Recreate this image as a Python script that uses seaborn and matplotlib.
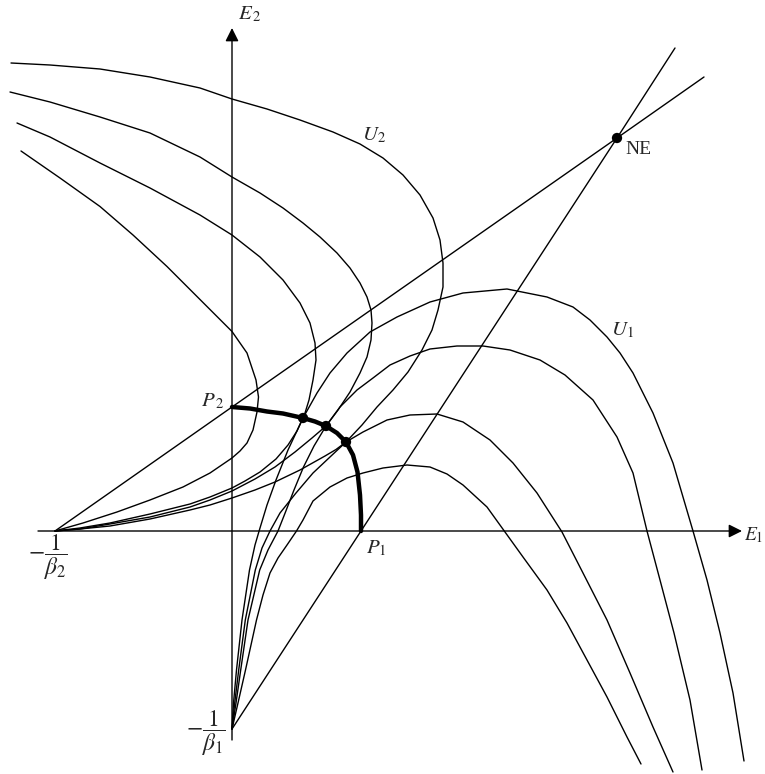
import pandas as pd
import seaborn as sns
import matplotlib.pyplot as plt

# values (no numeric scale in the original, so these are
# arbitrary effort units measured from the point where the axes cross)
p1 = 12.9
p2 = 12.4
minus_inv_beta1 = -19.8
minus_inv_beta2 = -17.7
ne_e1, ne_e2 = 38.5, 39.3

# reaction lines
br1_e1 = [0.0, p1, ne_e1, 44.3]
br1_e2 = [minus_inv_beta1, 0.0, ne_e2, 48.3]
br2_e1 = [minus_inv_beta2, 0.0, ne_e1, 47.2]
br2_e2 = [0.0, p2, ne_e2, 45.4]

# contract curve P2 -> P1 and the three tangency points on it
cc_e1 = [0.0, 1.8, 3.5, 5.1, 7.1, 8.3, 9.4, 10.5, 11.4, 12.1, 12.55, 12.8, 12.9, 12.9]
cc_e2 = [12.4, 12.25, 11.95, 11.75, 11.3, 10.95, 10.5, 9.8, 8.9, 7.6, 5.9, 3.6, 1.6, 0.0]
tang_e1 = [7.1, 9.4, 11.4]
tang_e2 = [11.3, 10.5, 8.9]

# U1 indifference curves (all start at -1/beta1)
u1a_e1 = [0.0, 0.6, 1.35, 2.45, 3.1, 3.8, 4.6, 5.5, 6.45, 7.1, 8.1, 9.8, 11.5, 13.1,
          15.1, 17.5, 19.8, 21.5, 23.1, 25.5, 27.3, 29.1, 31.5, 33.5, 35.5, 37.5, 39.5,
          40.9]
u1a_e2 = [-19.8, -17.2, -13.9, -8.9, -6.4, -4.2, -2.7, -1.4, 0.0, 1.1, 3.0, 4.4, 5.3, 5.8,
          6.3, 6.6, 6.4, 5.7, 4.6, 2.4, -0.1, -2.6, -5.9, -9.2, -12.9, -16.6, -20.6,
          -23.3]
u1b_e1 = [0.0, 0.27, 0.67, 1.33, 2.33, 3.0, 3.8, 4.8, 6.4, 8.1, 9.8, 11.4, 13.1, 15.5,
          17.8, 20.5, 23.1, 25.8, 28.1, 30.5, 33.0, 35.1, 37.5, 39.8, 42.1, 44.1]
u1b_e2 = [-19.8, -17.2, -13.9, -8.9, -3.9, -1.7, 0.0, 1.8, 3.8, 5.8, 7.4, 8.9, 9.9, 11.1,
          11.6, 11.7, 10.9, 9.1, 6.8, 3.8, -0.1, -4.2, -8.9, -14.2, -19.6, -24.1]
u1c_e1 = [0.0, 0.4, 0.87, 1.6, 2.77, 3.6, 4.6, 5.35, 6.2, 7.15, 8.2, 9.4, 10.8, 12.5,
          14.1, 15.8, 17.8, 19.8, 22.5, 25.1, 27.8, 30.8, 33.3, 36.1, 38.5, 40.1, 41.5,
          42.8, 44.2, 45.8, 47.0]
u1c_e2 = [-19.8, -17.2, -13.9, -8.9, -3.9, -1.9, 0.0, 1.9, 4.1, 6.4, 8.5, 10.5, 12.4,
          14.1, 15.3, 16.6, 17.5, 18.2, 18.5, 18.5, 18.1, 17.1, 15.6, 13.1, 9.4, 5.8, 0.0,
          -4.9, -10.2, -16.9, -23.9]
u1d_e1 = [0.0, 0.15, 0.45, 1.0, 1.75, 2.3, 2.8, 3.5, 4.4, 5.6, 7.1, 8.5, 9.8, 11.5, 13.8,
          16.5, 19.8, 23.1, 27.5, 31.5, 34.1, 35.8, 37.5, 38.8, 40.1, 42.1, 44.1, 46.1,
          47.5, 48.8, 50.1, 51.2]
u1d_e2 = [-19.8, -17.2, -13.9, -8.9, -3.9, -1.4, 0.3, 2.6, 5.1, 8.1, 11.3, 13.8, 15.8,
          17.8, 19.9, 21.4, 22.9, 23.8, 24.2, 23.4, 22.4, 21.1, 19.4, 17.8, 15.8, 11.8,
          6.8, 0.0, -4.9, -10.2, -16.2, -23.0]

# U2 indifference curves (all end at -1/beta2)
u2a_e1 = [-22.1, -18.2, -13.2, -8.2, -3.2, 0.0, 3.5, 6.8, 10.1, 12.8, 15.1, 17.1, 18.8,
          20.1, 20.8, 21.1, 21.1, 20.6, 20.0, 19.0, 17.6, 16.1, 14.5, 13.0, 11.4, 10.4,
          9.3, 6.8, 4.3, 2.3, 0.0, -2.2, -4.2, -8.2, -12.2, -15.2, -17.7]
u2a_e2 = [46.8, 46.6, 46.2, 45.4, 44.3, 43.2, 42.2, 41.1, 39.9, 38.7, 37.3, 35.6, 33.6,
          31.3, 29.1, 26.8, 24.4, 22.1, 20.1, 18.1, 15.9, 14.1, 12.4, 10.6, 8.9, 8.15,
          7.5, 6.1, 4.9, 4.1, 3.3, 2.6, 2.1, 1.2, 0.5, 0.2, 0.0]
u2b_e1 = [-22.2, -18.2, -13.2, -8.2, -3.2, 0.0, 2.8, 5.1, 7.1, 8.8, 10.5, 11.8, 12.8,
          13.5, 13.9, 14.0, 13.9, 13.5, 12.8, 11.8, 10.6, 9.4, 8.0, 6.3, 4.3, 2.3, 0.0,
          -2.2, -4.2, -8.2, -12.2, -15.2, -17.7]
u2b_e2 = [43.9, 42.9, 41.4, 39.8, 37.4, 35.4, 33.8, 32.3, 30.8, 29.4, 27.8, 26.3, 24.8,
          23.4, 22.1, 20.8, 19.1, 17.4, 15.8, 13.9, 12.1, 10.5, 9.3, 7.9, 6.4, 5.2, 4.0,
          3.1, 2.4, 1.4, 0.7, 0.2, 0.0]
u2c_e1 = [-21.5, -18.2, -13.2, -8.2, -3.2, 0.0, 2.8, 5.1, 6.8, 7.8, 8.3, 8.4, 8.1, 7.7,
          7.3, 7.1, 6.5, 5.6, 4.4, 2.8, 1.3, 0.0, -2.2, -4.2, -8.2, -12.2, -15.2, -17.7]
u2c_e2 = [40.8, 39.4, 36.8, 34.3, 31.6, 29.6, 27.4, 25.1, 22.8, 20.8, 18.8, 17.1, 15.1,
          13.1, 11.8, 11.3, 10.0, 8.6, 7.2, 5.9, 5.0, 4.3, 3.4, 2.7, 1.7, 0.8, 0.3, 0.0]
u2d_e1 = [-21.1, -17.2, -13.2, -9.9, -6.5, -2.5, 0.0, 1.5, 2.4, 2.65, 2.5, 2.1, 1.5, 0.8,
          0.0, -2.2, -4.9, -8.2, -11.5, -14.9, -17.7]
u2d_e2 = [38.0, 35.3, 32.45, 29.6, 26.45, 22.45, 19.95, 17.8, 15.1, 13.4, 11.9, 10.1, 8.8,
          8.0, 7.3, 5.8, 4.4, 3.1, 1.9, 0.8, 0.0]

sns.set_theme(style="white")
plt.rcParams["font.family"] = ["Liberation Serif", "DejaVu Serif"]
plt.rcParams["mathtext.fontset"] = "stix"

fig = plt.figure(figsize=(7.65, 7.74), dpi=100)
ax = fig.add_axes([0, 0, 1, 1])

# axes with arrows
ax.annotate("", xy=(51.0, 0), xytext=(-19.4, 0),
            arrowprops=dict(arrowstyle="-|>", lw=1.0, color="black", mutation_scale=20,
                            shrinkA=0, shrinkB=0))
ax.annotate("", xy=(0, 50.3), xytext=(0, -20.9),
            arrowprops=dict(arrowstyle="-|>", lw=1.0, color="black", mutation_scale=20,
                            shrinkA=0, shrinkB=0))

curves = [
    (br1_e1, br1_e2), (br2_e1, br2_e2),
    (u1a_e1, u1a_e2), (u1b_e1, u1b_e2), (u1c_e1, u1c_e2), (u1d_e1, u1d_e2),
    (u2a_e1, u2a_e2), (u2b_e1, u2b_e2), (u2c_e1, u2c_e2), (u2d_e1, u2d_e2),
]
for xs, ys in curves:
    df = pd.DataFrame({"E1": xs, "E2": ys})
    sns.lineplot(data=df, x="E1", y="E2", sort=False, estimator=None,
                 color="black", lw=1.0, ax=ax)

# contract curve
cc = pd.DataFrame({"E1": cc_e1, "E2": cc_e2})
sns.lineplot(data=cc, x="E1", y="E2", sort=False, estimator=None,
             color="black", lw=3.2, ax=ax)

dots = pd.DataFrame({"E1": tang_e1 + [ne_e1], "E2": tang_e2 + [ne_e2]})
sns.scatterplot(data=dots, x="E1", y="E2", color="black", s=55, edgecolor="none",
                zorder=5, ax=ax)

# labels
fs = 15
ax.text(51.2, -0.4, r"$E_1$", fontsize=14, ha="left", va="center")
ax.text(0.6, 51.7, r"$E_{\,2}$", fontsize=fs, ha="left", va="center")
ax.text(-0.8, 13.0, r"$P_{\,2}$", fontsize=fs, ha="right", va="center")
ax.text(14.4, -1.7, r"$P_1$", fontsize=fs, ha="center", va="center")
ax.text(40.6, 38.1, "NE", fontsize=14, ha="center", va="center")
ax.text(39.05, 20.1, r"$U_1$", fontsize=fs, ha="center", va="center")
ax.text(14.2, 39.6, r"$U_2$", fontsize=fs, ha="center", va="center")
ax.text(-18.4, -2.6, r"$-\dfrac{1}{\beta_2}$", fontsize=17, ha="center", va="center")
ax.text(-2.6, -20.2, r"$-\dfrac{1}{\beta_1}$", fontsize=17, ha="center", va="center")

ax.set_xlim(-23.2, 53.3)
ax.set_ylim(-24.3, 53.1)
ax.axis("off")

plt.savefig("out.png", dpi=100)
